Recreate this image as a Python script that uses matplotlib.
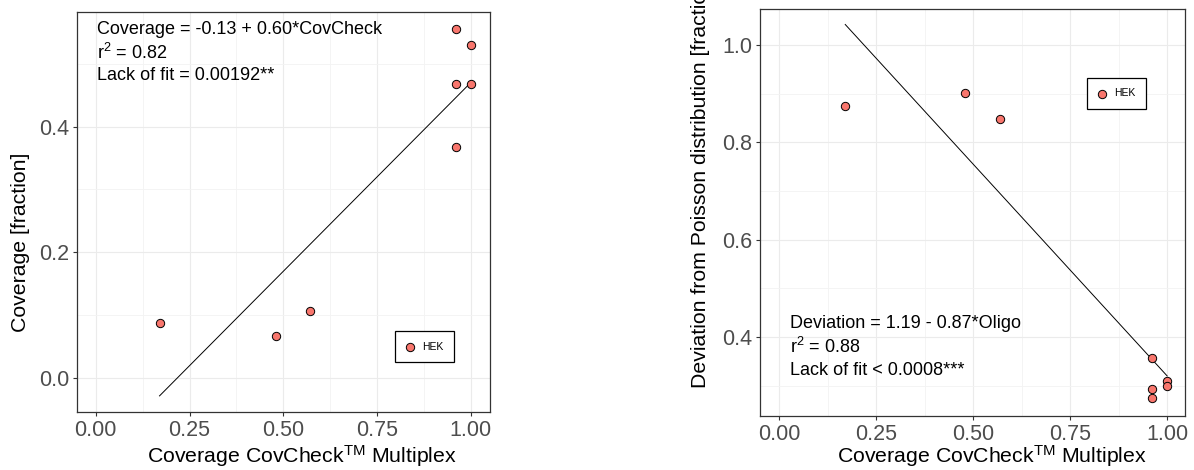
import matplotlib
matplotlib.use("Agg")
import matplotlib.pyplot as plt
import numpy as np

plt.rcParams["font.family"] = ["Liberation Sans", "DejaVu Sans"]
plt.rcParams["mathtext.fontset"] = "custom"
plt.rcParams["mathtext.rm"] = "Liberation Sans"
plt.rcParams["mathtext.it"] = "Liberation Sans:italic"

# data
covcheck = [0.17, 0.48, 0.57, 0.96, 0.96, 0.96, 1.00, 1.00]
coverage = [0.088, 0.067, 0.107, 0.555, 0.467, 0.367, 0.529, 0.467]
deviation = [0.875, 0.902, 0.847, 0.357, 0.294, 0.274, 0.310, 0.300]
cov_fit = (-0.13, 0.60)
dev_fit = (1.19, -0.87)
group = "HEK"

x_ticks = [0.00, 0.25, 0.50, 0.75, 1.00]
cov_ticks = [0.0, 0.2, 0.4]
dev_ticks = [0.4, 0.6, 0.8, 1.0]

cov_text = ["Coverage = -0.13 + 0.60*CovCheck", "r$^{2}$ = 0.82", "Lack of fit = 0.00192**"]
dev_text = ["Deviation = 1.19 - 0.87*Oligo", "r$^{2}$ = 0.88", "Lack of fit < 0.0008***"]

W, H = 1194, 470
fig = plt.figure(figsize=(W / 100, H / 100), dpi=100)

point_color = "#F8766D"
grid_major = "#EBEBEB"
grid_minor = "#F3F3F3"
tick_color = "#4D4D4D"


def style_axes(ax, xminor, yminor):
    ax.set_xticks(x_ticks)
    ax.set_xticklabels(["%.2f" % t for t in x_ticks])
    ax.set_xticks(xminor, minor=True)
    ax.set_yticks(yminor, minor=True)
    ax.grid(True, which="major", color=grid_major, linewidth=0.8)
    ax.grid(True, which="minor", color=grid_minor, linewidth=0.6)
    ax.set_axisbelow(True)
    for s in ax.spines.values():
        s.set_color("#333333")
        s.set_linewidth(0.9)
    ax.tick_params(which="major", length=3.2, width=0.8, color="#333333",
                   labelsize=15.5, labelcolor=tick_color, pad=2.4)
    ax.tick_params(which="minor", length=0)


def draw_panel(ax, y, fit, texts, text_x, text_y, legend_xy):
    ax.scatter(covcheck, y, s=36, color=point_color, edgecolor="black",
               linewidth=0.7, zorder=3, label=group)
    xs = np.array([min(covcheck), max(covcheck)])
    ax.plot(xs, fit[0] + fit[1] * xs, color="black", linewidth=0.7, zorder=2)
    for t, ty in zip(texts, text_y):
        ax.text(text_x, ty, t, fontsize=13, va="center", ha="left")
    leg = ax.legend(loc="center", bbox_to_anchor=legend_xy, frameon=True,
                    fancybox=False, edgecolor="black", framealpha=1,
                    fontsize=7.5, handlelength=0.8, handletextpad=0.8,
                    borderpad=1.0, borderaxespad=0, scatterpoints=1)
    leg.get_frame().set_linewidth(0.9)


# left panel
ax1 = fig.add_axes([77 / W, (H - 412) / H, 413 / W, 400 / H])
draw_panel(ax1, coverage, cov_fit, cov_text, 0.003, [0.554, 0.517, 0.481],
           (0.842, 0.163))
ax1.set_yticks(cov_ticks)
ax1.set_yticklabels(["%.1f" % t for t in cov_ticks])
style_axes(ax1, [0.125, 0.375, 0.625, 0.875], [0.1, 0.3, 0.5])
ax1.set_xlim(-0.05, 1.051)
ax1.set_ylim(-0.0536, 0.582)

# right panel
ax2 = fig.add_axes([760.3 / W, (H - 416) / H, 424.7 / W, 406.7 / H])
draw_panel(ax2, deviation, dev_fit, dev_text, 0.028, [0.427, 0.380, 0.332],
           (0.839, 0.793))
ax2.set_yticks(dev_ticks)
ax2.set_yticklabels(["%.1f" % t for t in dev_ticks])
style_axes(ax2, [0.125, 0.375, 0.625, 0.875], [0.3, 0.5, 0.7, 0.9])
ax2.set_xlim(-0.049, 1.046)
ax2.set_ylim(0.2377, 1.0733)

# axis titles
xlab = "Coverage CovCheck$^{\\mathrm{TM}}$ Multiplex"
fig.text(301.7 / W, (H - 456) / H, xlab, fontsize=15.3, ha="center", va="center")
fig.text(991.7 / W, (H - 456) / H, xlab, fontsize=15.3, ha="center", va="center")
fig.text(21 / W, (H - 242.5) / H, "Coverage [fraction]", fontsize=15.3,
         rotation=90, ha="center", va="center")
fig.text(700.5 / W, (H - 388) / H, "Deviation from Poisson distribution [fraction]",
         fontsize=15.3, rotation=90, ha="center", va="bottom")

fig.savefig("out.png", dpi=100, facecolor="white")
